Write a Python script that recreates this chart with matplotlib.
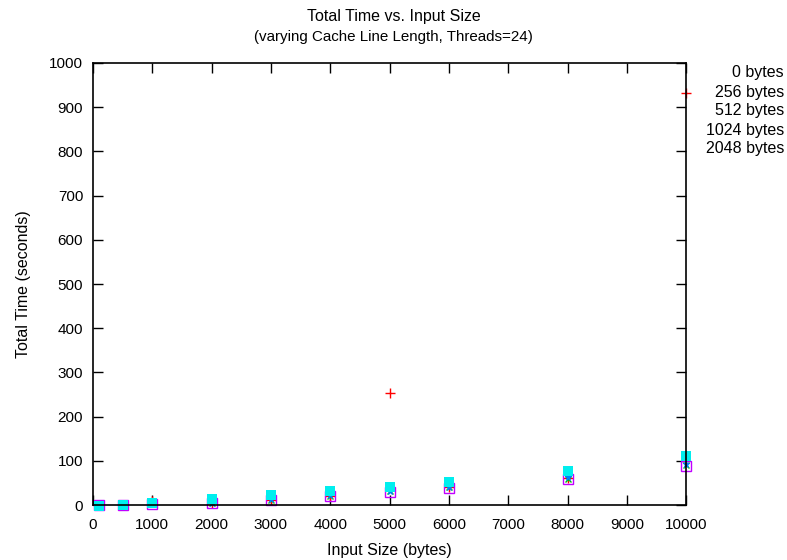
import matplotlib
matplotlib.use("Agg")
import matplotlib.pyplot as plt

plt.rcParams['font.family'] = ['Liberation Sans', 'DejaVu Sans']

input_sizes = [100, 500, 1000, 2000, 3000, 4000, 5000, 6000, 8000, 10000]
series_labels = ["0 bytes", "256 bytes", "512 bytes", "1024 bytes", "2048 bytes"]
t_0 = [0.5, 1, 10, 5, 12, 20, 253, 40, 62, 932]
t_256 = [0.3, 0.8, 2, 4, 12, 21, 31, 40, 60, 91]
t_512 = [0.4, 1, 3, 5, 14, 23, 33, 42, 63, 94]
t_1024 = [0.3, 0.8, 2, 4, 12, 20, 30, 38, 58, 89]
t_2048 = [-1, 1, 5, 13, 22, 31, 41, 53, 78, 110]

x_ticks = list(range(0, 10001, 1000))
y_ticks = list(range(0, 1001, 100))

fig = plt.figure(figsize=(7.87, 5.6), dpi=100)
ax = fig.add_axes([0.118, 0.098, 0.754, 0.7895])

styles = [
    dict(color="#ff0000", marker="+", ms=7, mew=1.0, ls="none"),
    dict(color="#00c000", marker="x", ms=4.5, mew=1.0, ls="none"),
    dict(color="#0080ff", marker="*", ms=5, mew=0.8, ls="none"),
    dict(color="#c000ff", marker="s", ms=6.5, mew=1.0, ls="none", mfc="none"),
    dict(color="#00eeee", marker="s", ms=7, mew=0, ls="none"),
]
series = [t_0, t_256, t_512, t_1024, t_2048]
for vals, st, lab in zip(series, styles, series_labels):
    ax.plot(input_sizes, vals, label=lab, clip_on=False, **st)

ax.set_xlim(0, 10000)
ax.set_ylim(0, 1000)
ax.set_xticks(x_ticks)
ax.set_yticks(y_ticks)
ax.tick_params(direction="in", length=7, width=1, top=True, right=True,
               labelsize=11, colors="black")
ax.tick_params(axis="x", pad=9)
ax.tick_params(axis="y", pad=7)
for s in ax.spines.values():
    s.set_linewidth(1.2)

ax.set_xlabel("Input Size (bytes)", fontsize=11.5, labelpad=8)
ax.set_ylabel("Total Time (seconds)", fontsize=11.5, labelpad=13)
fig.text(0.5, 0.97, "Total Time vs. Input Size", ha="center", va="center", fontsize=11.5)
fig.text(0.5, 0.934, "(varying Cache Line Length, Threads=24)", ha="center", va="center", fontsize=10.9)

# key entries at the right, text only
for i, lab in enumerate(series_labels):
    y = 73 + i * 19
    fig.text(784 / 787, 1 - y / 560, lab, ha="right", va="center", fontsize=11.5)

fig.savefig("out.png", dpi=100)
